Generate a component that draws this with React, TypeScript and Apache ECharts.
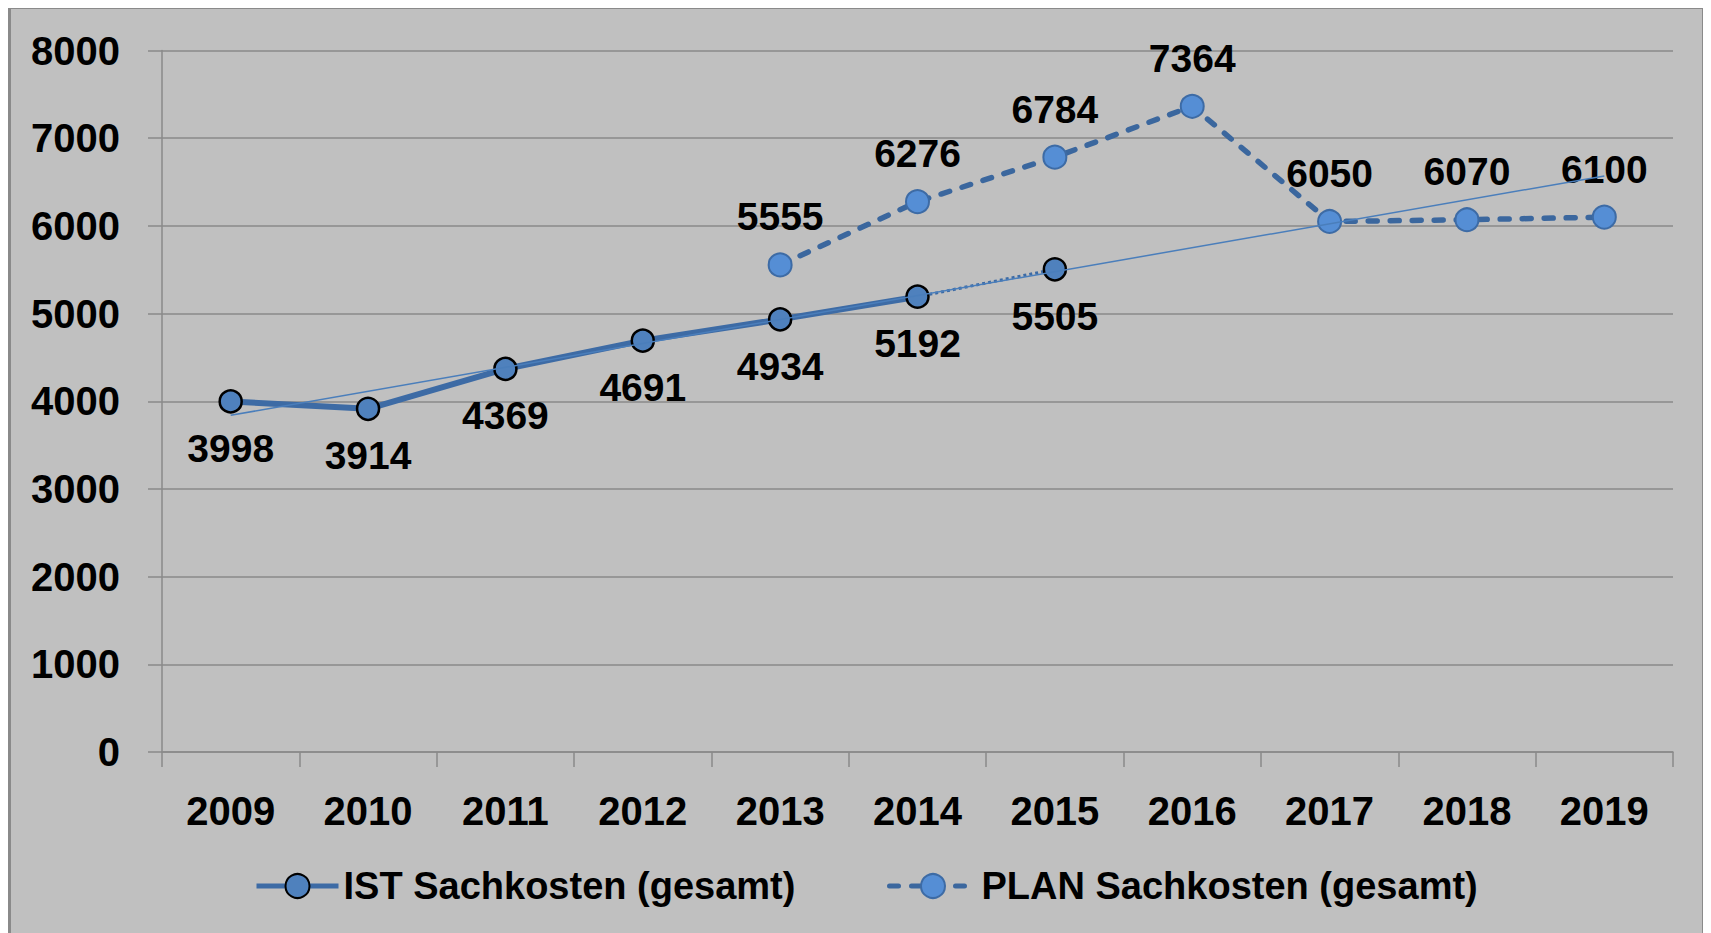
import React, { useEffect, useRef } from "react";
import * as echarts from "echarts";

const years = ["2009", "2010", "2011", "2012", "2013", "2014", "2015", "2016", "2017", "2018", "2019"];
const istValues = [3998, 3914, 4369, 4691, 4934, 5192, null, null, null, null, null];
const istForecast = [null, null, null, null, null, 5192, 5505, null, null, null, null];
const planValues = [null, null, null, null, 5555, 6276, 6784, 7364, 6050, 6070, 6100];
const trendYears = ["2009", "2019"];
const trendValues = [3840, 6570];
const yTicks = [0, 1000, 2000, 3000, 4000, 5000, 6000, 7000, 8000];

const IST_NAME = "IST Sachkosten (gesamt)";
const PLAN_NAME = "PLAN Sachkosten (gesamt)";

export default function App() {
  const ref = useRef<HTMLDivElement>(null);
  useEffect(() => {
    if (!ref.current) return;
    const chart = echarts.init(ref.current, null, { renderer: "svg" });
    const numFont = { fontFamily: "Liberation Sans, Arial, sans-serif", fontWeight: "bold" as const, color: "#000" };
    const legendText = {
      fontFamily: "Liberation Sans, Arial, sans-serif",
      fontWeight: "bold" as const,
      fontSize: 38,
      color: "#000",
    };
    chart.setOption({
      animation: false,
      backgroundColor: "#c0c0c0",
      grid: { left: 151, top: 41.5, width: 1511, height: 701.5 },
      legend: [
        {
          data: [IST_NAME],
          left: 238,
          top: 853,
          itemWidth: 82,
          itemHeight: 30,
          textStyle: legendText,
          lineStyle: { width: 5 },
          selectedMode: false,
        },
        {
          data: [PLAN_NAME],
          left: 871,
          top: 853,
          itemWidth: 87,
          itemHeight: 30,
          textStyle: legendText,
          lineStyle: { width: 5 },
          selectedMode: false,
        },
      ],
      xAxis: {
        type: "category",
        data: years,
        boundaryGap: true,
        axisLine: { show: true, lineStyle: { color: "#8a8a8a", width: 1.5 } },
        axisTick: { show: true, length: 15, interval: 0, lineStyle: { color: "#8a8a8a", width: 1.5 } },
        axisLabel: { ...numFont, fontSize: 40, margin: 39, interval: 0 },
        splitLine: { show: false },
      },
      yAxis: {
        type: "value",
        min: yTicks[0],
        max: yTicks[yTicks.length - 1],
        interval: 1000,
        axisLine: { show: true, lineStyle: { color: "#8a8a8a", width: 1.5 } },
        axisTick: { show: true, length: 14, lineStyle: { color: "#8a8a8a", width: 1.5 } },
        axisLabel: { ...numFont, fontSize: 40, margin: 42, formatter: (v: number) => String(v) },
        splitLine: { show: true, lineStyle: { color: "#8a8a8a", width: 1.5 } },
      },
      series: [
        {
          name: IST_NAME,
          type: "line",
          data: istValues,
          z: 3,
          symbol: "circle",
          symbolSize: 22,
          itemStyle: { color: "#4f81bd", borderColor: "#000", borderWidth: 2.5 },
          lineStyle: { color: "#3d6ba5", width: 6 },
          label: { show: true, position: "bottom", distance: 15, ...numFont, fontSize: 39 },
        },
        {
          name: IST_NAME + " ",
          type: "line",
          data: istForecast.map((v, i) =>
            i === 5 ? { value: v, symbol: "none", label: { show: false } } : v
          ),
          z: 2,
          symbol: "circle",
          symbolSize: 22,
          itemStyle: { color: "#4f81bd", borderColor: "#000", borderWidth: 2.5 },
          lineStyle: { color: "#3d6ba5", width: 3, type: [3, 3] },
          label: { show: true, position: "bottom", distance: 15, ...numFont, fontSize: 39 },
        },
        {
          name: PLAN_NAME,
          type: "line",
          data: planValues,
          z: 3,
          symbol: "circle",
          symbolSize: 23,
          itemStyle: { color: "#558ed5", borderColor: "#3d6ba5", borderWidth: 2 },
          lineStyle: { color: "#3b679e", width: 5.5, type: [9, 13], cap: "round" },
          label: { show: true, position: "top", distance: 16, ...numFont, fontSize: 39 },
        },
        {
          name: "Trend",
          type: "line",
          data: trendYears.map((y, i) => [y, trendValues[i]]),
          z: 5,
          symbol: "none",
          lineStyle: { color: "#4a7ebb", width: 1.5 },
          silent: true,
        },
      ],
    });
    return () => chart.dispose();
  }, []);
  return (
    <div
      style={{
        width: 1691,
        height: 930,
        border: "3px solid #8a8a8a",
        background: "#c0c0c0",
        marginTop: -2,
      }}
    >
      <div ref={ref} style={{ width: 1691, height: 930 }} />
    </div>
  );
}
